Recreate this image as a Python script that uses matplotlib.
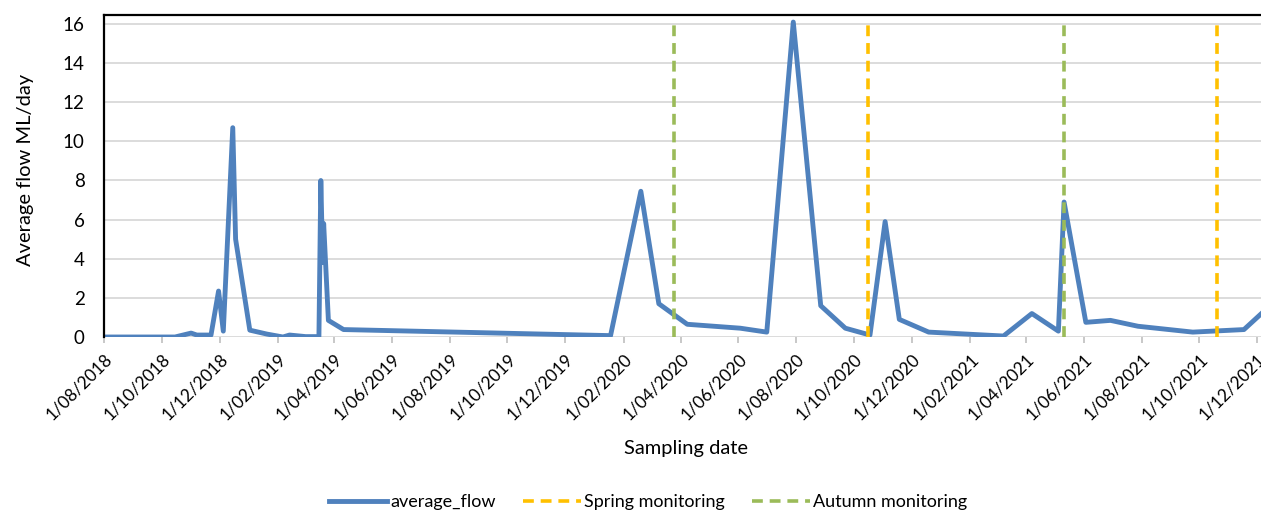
import numpy as np
import pandas as pd
import matplotlib
matplotlib.use('Agg')
import matplotlib.pyplot as plt
import matplotlib.dates as mdates

plt.rcParams['font.family'] = ['Lato', 'DejaVu Sans']

# sampling dates and average flow (ML/day)
dates = ['2018-08-01', '2018-10-15', '2018-11-01', '2018-11-07', '2018-11-22',
         '2018-11-30', '2018-12-05', '2018-12-15', '2018-12-18', '2019-01-02',
         '2019-01-20', '2019-02-06', '2019-02-13', '2019-03-02', '2019-03-16',
         '2019-03-18', '2019-03-20', '2019-03-21', '2019-03-26', '2019-04-11',
         '2020-01-18', '2020-02-19', '2020-03-09', '2020-04-08', '2020-06-03',
         '2020-07-01', '2020-07-29', '2020-08-27', '2020-09-22', '2020-10-18',
         '2020-11-03', '2020-11-18', '2020-12-19', '2021-03-08', '2021-04-07',
         '2021-05-05', '2021-05-11', '2021-06-03', '2021-06-29', '2021-07-28',
         '2021-09-24', '2021-11-17', '2021-12-10']
flow = [0.0, 0.0, 0.2, 0.1, 0.1,
        2.35, 0.3, 10.7, 5.0, 0.35,
        0.15, 0.0, 0.1, 0.02, 0.02,
        8.0, 3.8, 5.8, 0.85, 0.38,
        0.07, 7.45, 1.7, 0.65, 0.45,
        0.25, 16.1, 1.6, 0.45, 0.1,
        5.9, 0.9, 0.25, 0.05, 1.2,
        0.3, 6.9, 0.75, 0.85, 0.55,
        0.25, 0.38, 1.4]

spring_dates = ['2020-10-16', '2021-10-20']
autumn_dates = ['2020-03-25', '2021-05-11']

yticks = [0, 2, 4, 6, 8, 10, 12, 14, 16]

blue = '#4F81BD'
orange = '#FFC000'
green = '#9BBB59'
dash = (3.0, 1.9)

t = pd.to_datetime(dates)

fig = plt.figure(figsize=(12.61, 5.13), dpi=100)
ax = fig.add_axes([104/1261, 1 - 337/513, 1 - 104/1261, (337 - 15)/513])

for d in spring_dates:
    ax.plot([pd.Timestamp(d)]*2, [0, 16], color=orange, lw=2.6,
            dashes=dash, zorder=3)
for d in autumn_dates:
    ax.plot([pd.Timestamp(d)]*2, [0, 16], color=green, lw=2.6,
            dashes=dash, zorder=3)
ax.plot(t, flow, color=blue, lw=3.5, zorder=2, solid_joinstyle='round')

ax.set_ylim(0, 16.46)
ax.set_yticks(yticks)
ax.set_xlim(pd.Timestamp('2018-08-01'), pd.Timestamp('2021-12-05'))
ax.xaxis.set_major_locator(mdates.MonthLocator(bymonth=(2, 4, 6, 8, 10, 12)))
ax.xaxis.set_major_formatter(mdates.DateFormatter('1/%m/%Y'))

ax.grid(axis='y', color='#D9D9D9', lw=1.3, zorder=0)
ax.set_axisbelow(True)
ax.spines['right'].set_visible(False)
ax.spines['bottom'].set_visible(False)
ax.spines['left'].set_color('black')
ax.spines['left'].set_linewidth(1.6)
ax.spines['top'].set_color('black')
ax.spines['top'].set_linewidth(1.6)

ax.tick_params(axis='y', length=0, pad=14, labelsize=13.5)
ax.tick_params(axis='x', length=4, color='#BFBFBF', width=1.2, pad=6, labelsize=12.5)
for lbl in ax.get_xticklabels():
    lbl.set_rotation(45)
    lbl.set_ha('right')
    lbl.set_rotation_mode('anchor')

fig.text(0.02, 0.669, 'Average flow ML/day', rotation=90, ha='center',
         va='center', fontsize=14.5)
fig.text(0.544, 0.125, 'Sampling date', ha='center', va='center', fontsize=14.5)

h1, = ax.plot([], [], color=blue, lw=3.5)
h2, = ax.plot([], [], color=orange, lw=2.6, dashes=dash)
h3, = ax.plot([], [], color=green, lw=2.6, dashes=dash)
fig.legend([h1, h2, h3], ['average_flow', 'Spring monitoring', 'Autumn monitoring'],
           loc='center', bbox_to_anchor=(0.514, 0.021), ncol=3, frameon=False,
           fontsize=13, handlelength=3.2, handletextpad=0.2, columnspacing=1.5)

fig.savefig('out.png', dpi=100)
